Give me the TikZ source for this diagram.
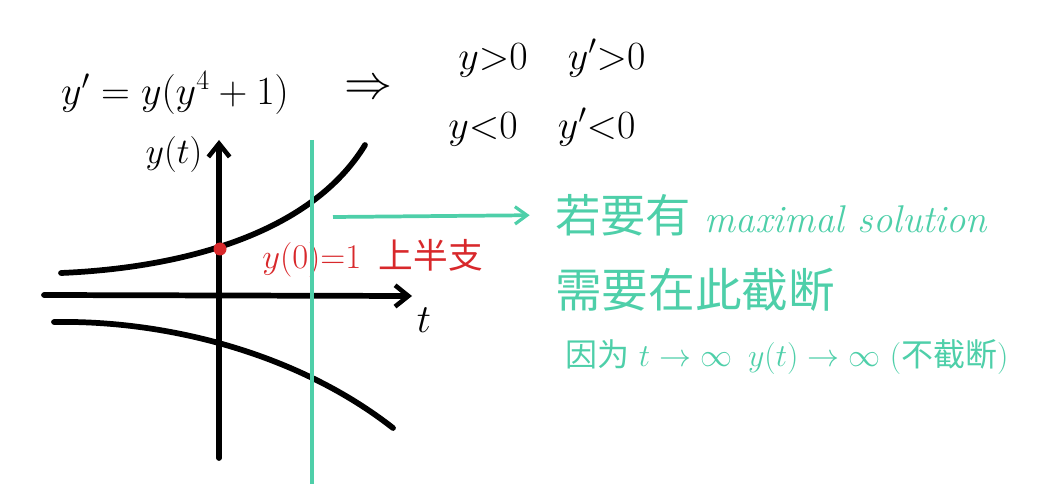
\RequirePackage{fix-cm}
\documentclass[tikz,border=0pt]{standalone}
\usepackage{fontspec}
\newfontfamily\cjk{Noto Sans CJK SC}
\usepackage{tikz}
\usetikzlibrary{arrows.meta}
\definecolor{mint}{HTML}{4ECFA9}
\definecolor{inkred}{HTML}{D8282B}
\tikzset{
  ink/.style={line width=4.3pt, line cap=round},
  axis/.style={ink, -{Straight Barb[length=10pt,width=16pt,line width=3.4pt]}},
  cut/.style={draw=mint, line width=2.8pt},
  note/.style={text=mint, anchor=west, inner sep=0pt},
  big/.style={font=\fontsize{30}{36}\selectfont},
}

\begin{document}
\begin{tikzpicture}[x=0.75pt, y=-0.75pt]
  \useasboundingbox (0,0) rectangle (1062,484);

  % equation and signs
  \node[big] at (175, 93) (eq) {$y' = y(y^4+1)$};
  \node[font=\fontsize{36}{40}\selectfont] at (368, 90) (impl) {$\Rightarrow$};
  \node[big] at (552, 58) (pos) {$y{>}0\quad y'{>}0$};
  \node[big] at (542, 127) (neg) {$y{<}0\quad y'{<}0$};

  % axes
  \coordinate (tL) at (44, 295);
  \coordinate (tR) at (412, 296);
  \coordinate (yB) at (219, 458);
  \coordinate (yT) at (219, 140);
  \draw[axis] (tL) -- (tR);
  \draw[axis] (yB) -- (yT);
  \node[font=\fontsize{27}{30}\selectfont] at (174, 155) (ylab) {$y(t)$};
  \node[big] at (424, 320) (tlab) {$t$};

  % solution branches
  \draw[ink] (61,273) .. controls (180,268) and (310,235) .. (365,145);
  \draw[ink] (54,322) .. controls (170,320) and (300,355) .. (393,428);

  \fill[inkred] (220, 249) circle (6.5) coordinate (ic);
  \node[text=inkred, anchor=west, inner sep=0pt, font=\fontsize{26}{30}\selectfont]
    at (262, 258) (iclab) {$y(0){=}1$\enspace{\cjk 上半支}};

  % cut line and note
  \coordinate (cutT) at (312, 140);
  \coordinate (cutB) at (312, 484);
  \draw[cut] (cutT) -- (cutB);

  \node[note, font=\fontsize{34}{40}\selectfont] at (555, 215) (line1)
    {{\cjk 若要有} {\fontsize{29}{32}\selectfont\itshape maximal solution}};
  \node[note, font=\cjk\fontsize{35}{40}\selectfont] at (555, 290) (line2) {需要在此截断};
  \node[note, font=\fontsize{24}{28}\selectfont] at (565, 357) (line3)
    {{\cjk 因为} $t\to\infty$\enspace $y(t)\to\infty$ ({\cjk 不截断})};

  \coordinate (arrS) at (333, 217);
  \draw[cut, -{Straight Barb[length=9pt,width=13pt,line width=2.4pt]}, shorten >=19pt] (arrS) -- (line1.west);
\end{tikzpicture}
\end{document}
